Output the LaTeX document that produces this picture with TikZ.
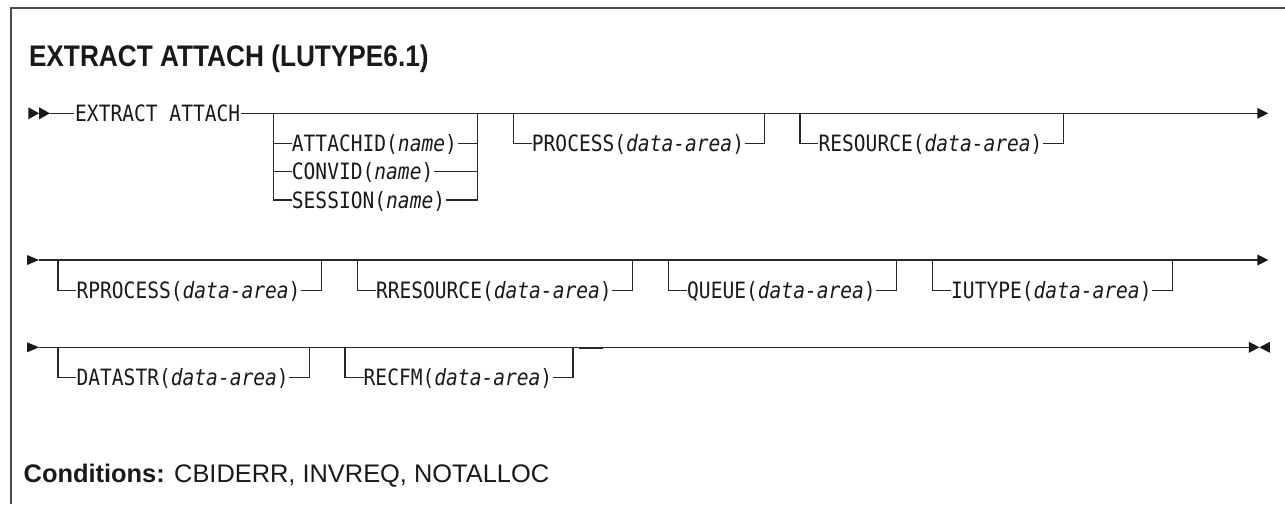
\documentclass[tikz,border=0pt]{standalone}
\usepackage{fontspec}
\setmainfont{Liberation Sans}
\newfontfamily\titlefont[FakeStretch=0.88]{Liberation Sans}
\newfontfamily\monofont[FakeStretch=0.87,ItalicFont={DejaVu Sans Mono Oblique}]{DejaVu Sans Mono}
\usetikzlibrary{calc}
\tikzset{
  ln/.style={line width=1.3pt, draw=black!85},
  frameline/.style={line width=1.8pt, draw=black!70},
  mono/.style={font=\monofont\fontsize{22.5}{24}\selectfont, inner sep=0pt, anchor=base west, text=black!90},
  titletext/.style={font=\titlefont\bfseries\fontsize{29.8}{32}\selectfont, inner sep=0pt, anchor=base west, text=black!90},
  condtext/.style={font=\fontsize{25.4}{30}\selectfont, inner sep=0pt, anchor=base west, text=black!90},
  tipfill/.style={fill=black!90},
}
% optional item: #1 id, #2 left vertical x, #3 main line y, #4 item y, #5 text
\newcommand\optbox[5]{%
  \coordinate (#1L) at (#2,#3);
  \coordinate (#1I) at (#2,#4);
  \node[mono] (#1) at ($(#1I)+(18.4,8.2)$) {#5};
  \coordinate (#1R) at ($(#1.east |- #1L)+(20.5,0)$);
  \draw[ln] (#1L) |- (#1.west |- #1I);
  \draw[ln] ([xshift=0.5pt]#1.east |- #1I) -| (#1R);
}
\begin{document}
\begin{tikzpicture}[x=1pt,y=-1pt]
\useasboundingbox (0,0) rectangle (1285,504);
% frame
\coordinate (fbl) at (11,504);
\coordinate (ftl) at (11,7.7);
\coordinate (ftr) at (1285,7.7);
\draw[frameline] (fbl) -- (ftl) -- (ftr);
% title
\node[titletext] (title) at (28.8,66.7) {EXTRACT ATTACH (LUTYPE6.1)};

% ---------- row 1 ----------
\coordinate (r1s) at (28.3,113.3);
\fill[tipfill] (r1s) ++(0,-6) -- ++(10.8,6) -- ++(-10.8,6) -- cycle;
\fill[tipfill] ($(r1s)+(10.8,0)$) ++(0,-6) -- ++(10.8,6) -- ++(-10.8,6) -- cycle;
\coordinate (r1a) at (50,113.3);
\node[mono] (ea) at (75,121.5) {EXTRACT ATTACH};
\coordinate (r1e) at (1268.3,113.3);
\draw[ln] (r1a) -- ([xshift=-1.5pt]ea.west |- r1a);
\draw[ln] ([xshift=0.5pt]ea.east |- r1a) -- ([xshift=-10pt]r1e);
\fill[tipfill] (r1e) -- ++(-11,-5.5) -- ++(0,11) -- cycle;

% group 1
\coordinate (g1L) at (273.3,113.3);
\coordinate (g1a) at (273.3,143.3);
\coordinate (g1b) at (273.3,171.7);
\coordinate (g1c) at (273.3,200);
\node[mono] (att) at (291.7,151.5) {ATTACHID(\textit{name})};
\node[mono] (conv) at (291.7,179.9) {CONVID(\textit{name})};
\node[mono] (sess) at (291.7,208.2) {SESSION(\textit{name})};
\coordinate (g1R) at ($(att.east |- g1L)+(20.5,0)$);
\draw[ln] (g1L) |- (sess.west |- g1c);
\draw[ln] (g1a) -- (att.west |- g1a);
\draw[ln] (g1b) -- (conv.west |- g1b);
\draw[ln] ([xshift=0.5pt]att.east |- g1a) -- (g1R |- g1a);
\draw[ln] ([xshift=0.5pt]conv.east |- g1b) -- (g1R |- g1b);
\draw[ln] ([xshift=0.5pt]sess.east |- g1c) -| (g1R);

\optbox{pr}{513.3}{113.3}{143.3}{PROCESS(\textit{data-area})}
\optbox{rs}{800}{113.3}{143.3}{RESOURCE(\textit{data-area})}

% ---------- row 2 ----------
\coordinate (r2s) at (27,260);
\fill[tipfill] (r2s) ++(0,-5) -- ++(12,5) -- ++(-12,5) -- cycle;
\coordinate (r2a) at (39,260);
\coordinate (r2e) at (1268.3,260);
\draw[ln] (r2a) -- ([xshift=-10pt]r2e);
\fill[tipfill] (r2e) -- ++(-11,-5.5) -- ++(0,11) -- cycle;
\optbox{rp}{58}{260}{290.5}{RPROCESS(\textit{data-area})}
\optbox{rr}{357.4}{260}{290.5}{RRESOURCE(\textit{data-area})}
\optbox{qu}{668.6}{260}{290.5}{QUEUE(\textit{data-area})}
\optbox{iu}{932.6}{260}{290.5}{IUTYPE(\textit{data-area})}

% ---------- row 3 ----------
\coordinate (r3s) at (27,347.3);
\fill[tipfill] (r3s) ++(0,-5) -- ++(12,5) -- ++(-12,5) -- cycle;
\coordinate (r3a) at (39,347.3);
\coordinate (r3e) at (1259.4,347.3);
\draw[ln] (r3a) -- ([xshift=-10.5pt]r3e);
\fill[tipfill] (r3e) -- ++(-10.5,-5.5) -- ++(0,11) -- cycle;
\fill[tipfill] (r3e) -- ++(10.5,-5.5) -- ++(0,11) -- cycle;
\optbox{ds}{58}{347.3}{377.3}{DATASTR(\textit{data-area})}
\optbox{rf}{345.1}{347.3}{377.3}{RECFM(\textit{data-area})}
\coordinate (mk1) at (579,347.8);
\coordinate (mk2) at (603,347.8);
\draw[line width=2.2pt, draw=black!85] (mk1) -- (mk2);

% conditions
\node[condtext] (cond) at (23.5,482) {\textbf{Conditions:} CBIDERR, INVREQ, NOTALLOC};
\end{tikzpicture}
\end{document}
